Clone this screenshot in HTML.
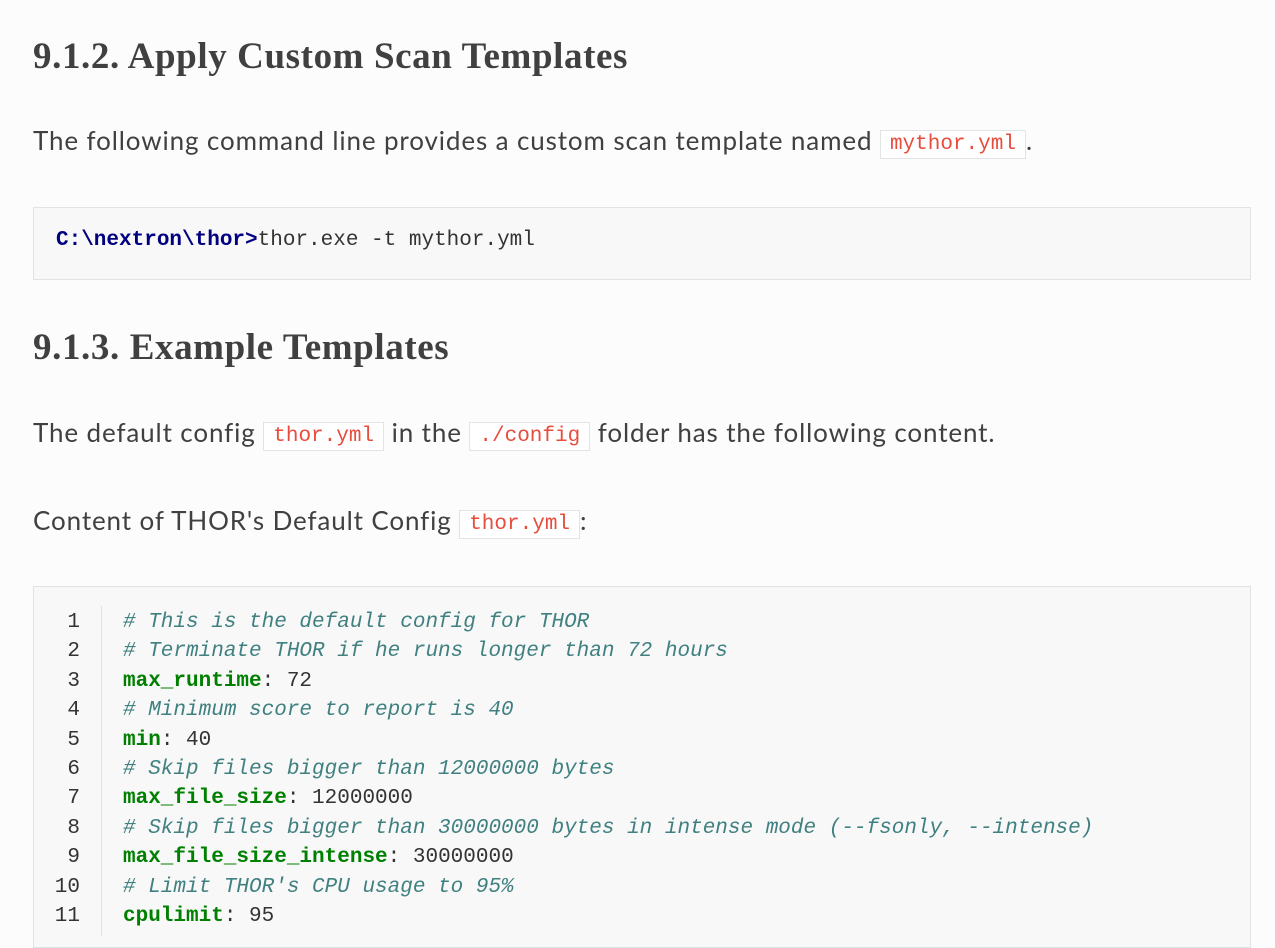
<!DOCTYPE html>
<html><head><meta charset="utf-8"><style>
body{margin:0;background:#fcfcfc;width:1275px;height:934px;overflow:hidden;position:relative;font-family:"Lato","Liberation Sans",sans-serif;color:#404040}
.a{position:absolute;white-space:pre}
h2{position:absolute;margin:0;font-family:"Roboto Slab","Liberation Serif",serif;font-weight:bold;font-size:37px;color:#404040;white-space:pre;letter-spacing:0.6px}
p{position:absolute;margin:0;font-size:26px;letter-spacing:0.88px;white-space:pre;left:33px}
code{font-family:"Liberation Mono",monospace;font-size:21px;letter-spacing:0;color:#e74c3c;background:#fff;border:1px solid #e1e4e5;padding:2px 9px;vertical-align:1px}
.box{position:absolute;left:33px;width:1216px;background:#f8f8f8;border:1px solid #e1e4e5}
.m{font-family:"Liberation Mono",monospace}
.c{color:#408080;font-style:italic}
.k{color:#008000;font-weight:bold}
</style></head><body>
<h2 style="left:33px;top:35px">9.1.2. Apply Custom Scan Templates</h2>
<p style="top:124px">The following command line provides a custom scan template named <code>mythor.yml</code>.</p>
<div class="box" style="top:207px;height:71px"></div>
<div class="a m" style="left:56px;top:229px;font-size:21px;color:#333"><b style="color:#000080">C:\nextron\thor&gt;</b>thor.exe -t mythor.yml</div>
<h2 style="left:33px;top:326px">9.1.3. Example Templates</h2>
<p style="top:416px">The default config <code>thor.yml</code> in the <code>./config</code> folder has the following content.</p>
<p style="top:504px">Content of THOR's Default Config <code>thor.yml</code>:</p>
<div class="box" style="top:586px;height:360px"></div>
<div class="a" style="left:101px;top:606px;width:1px;height:330px;background:#e1e4e5"></div>
<div class="a m" style="left:54px;top:608px;font-size:21px;line-height:29.4px;color:#333;text-align:right;width:26px">1
2
3
4
5
6
7
8
9
10
11</div>
<div class="a m" style="left:123px;top:608px;font-size:21px;line-height:29.4px;color:#333"><span class="c"># This is the default config for THOR</span>
<span class="c"># Terminate THOR if he runs longer than 72 hours</span>
<span class="k">max_runtime</span>: 72
<span class="c"># Minimum score to report is 40</span>
<span class="k">min</span>: 40
<span class="c"># Skip files bigger than 12000000 bytes</span>
<span class="k">max_file_size</span>: 12000000
<span class="c"># Skip files bigger than 30000000 bytes in intense mode (--fsonly, --intense)</span>
<span class="k">max_file_size_intense</span>: 30000000
<span class="c"># Limit THOR's CPU usage to 95%</span>
<span class="k">cpulimit</span>: 95</div>
</body></html>
